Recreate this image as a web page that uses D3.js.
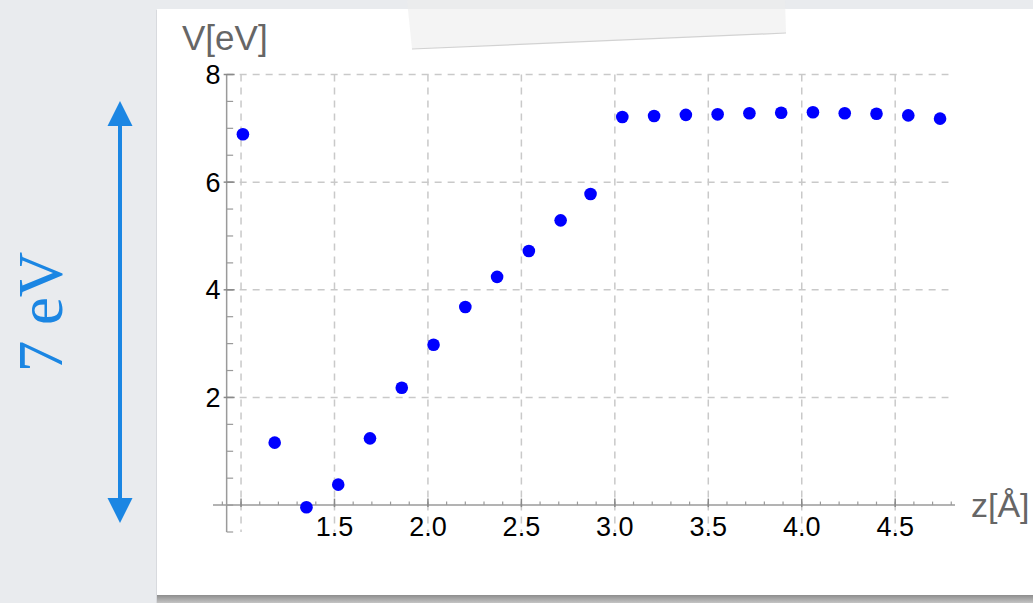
<!DOCTYPE html>
<html>
<head>
<meta charset="utf-8">
<script src="https://cdn.jsdelivr.net/npm/d3@7/dist/d3.min.js"></script>
<style>
  body { margin: 0; background: #e9ebee; }
  svg { display: block; }
</style>
</head>
<body>
<div id="chart"></div>
<script>
// Values
const zValues = [1.01, 1.18, 1.35, 1.52, 1.69, 1.86, 2.03, 2.20, 2.37, 2.54, 2.71, 2.87,
                 3.04, 3.21, 3.38, 3.55, 3.72, 3.89, 4.06, 4.23, 4.40, 4.57, 4.74];
const vValues = [6.89, 1.16, -0.04, 0.38, 1.24, 2.18, 2.98, 3.68, 4.24, 4.72, 5.29, 5.78,
                 7.21, 7.23, 7.25, 7.26, 7.28, 7.29, 7.30, 7.28, 7.27, 7.24, 7.18];

// Tick values
const xGridTicks = [1.0, 1.5, 2.0, 2.5, 3.0, 3.5, 4.0, 4.5];
const xLabelTicks = [1.5, 2.0, 2.5, 3.0, 3.5, 4.0, 4.5];
const yLabelTicks = [2, 4, 6, 8];
const xMinorTicks = d3.range(9, 49).map(d => d / 10);
const yMinorTicks = d3.range(-1, 17).map(d => d / 2);

const W = 1033, H = 603;
const blue = "#1b86e3";

const svg = d3.select("#chart")
    .append("svg")
    .attr("width", W)
    .attr("height", H);

const defs = svg.append("defs");
const shadow = defs.append("linearGradient")
    .attr("id", "shadow").attr("x1", 0).attr("y1", 0).attr("x2", 0).attr("y2", 1);
shadow.append("stop").attr("offset", "0%").attr("stop-color", "#8d8d8d");
shadow.append("stop").attr("offset", "100%").attr("stop-color", "#c4c4c4");

// Slide background and paper panel
svg.append("rect").attr("width", W).attr("height", H).attr("fill", "#e9ebee");
svg.append("rect").attr("x", 156).attr("y", 10).attr("width", W - 156).attr("height", 594)
    .attr("fill", "#d8dade");
svg.append("rect").attr("x", 157).attr("y", 595).attr("width", W - 157).attr("height", 8)
    .attr("fill", "url(#shadow)");
svg.append("rect").attr("x", 157).attr("y", 9).attr("width", W - 157).attr("height", 586)
    .attr("fill", "#ffffff");

// Tape strip
svg.append("path")
    .attr("d", "M407,0 L785,0 L786,33 L412,49 Z")
    .attr("fill", "#ececec")
    .attr("opacity", 0.6);
svg.append("path")
    .attr("d", "M412,49 L786,33")
    .attr("stroke", "#d2d2d2")
    .attr("stroke-width", 1.2);

// Scales
const x = d3.scaleLinear().domain([0.85, 4.82]).range([213, 955]);
const y = d3.scaleLinear().domain([-0.5, 8]).range([532, 74.5]);
const yAxisAt = 0.923;

const plot = svg.append("g");

// Grid
plot.selectAll(".vgrid")
    .data(xGridTicks)
    .enter().append("line")
    .attr("class", "vgrid")
    .attr("x1", d => x(d)).attr("x2", d => x(d))
    .attr("y1", y(8)).attr("y2", y(-0.5))
    .attr("stroke", "#c9c9c9").attr("stroke-width", 1.5)
    .attr("stroke-dasharray", "7,6");

plot.selectAll(".hgrid")
    .data(yLabelTicks)
    .enter().append("line")
    .attr("class", "hgrid")
    .attr("x1", x(yAxisAt)).attr("x2", x(4.785))
    .attr("y1", d => y(d)).attr("y2", d => y(d))
    .attr("stroke", "#c9c9c9").attr("stroke-width", 1.5)
    .attr("stroke-dasharray", "7,6");

// X axis (at V = 0)
const xAxisG = plot.append("g").attr("transform", `translate(0,${y(0)})`);
xAxisG.append("line")
    .attr("x1", x.range()[0]).attr("x2", x.range()[1])
    .attr("stroke", "#9a9a9a").attr("stroke-width", 1.5);
xAxisG.selectAll(".xminor")
    .data(xMinorTicks)
    .enter().append("line")
    .attr("x1", d => x(d)).attr("x2", d => x(d))
    .attr("y1", 0).attr("y2", -3.5)
    .attr("stroke", "#9a9a9a").attr("stroke-width", 1.2);
xAxisG.selectAll(".xmajor")
    .data(xGridTicks)
    .enter().append("line")
    .attr("x1", d => x(d)).attr("x2", d => x(d))
    .attr("y1", 2).attr("y2", -6.5)
    .attr("stroke", "#8a8a8a").attr("stroke-width", 1.5);
xAxisG.selectAll(".xlabel")
    .data(xLabelTicks)
    .enter().append("text")
    .attr("x", d => x(d)).attr("y", 30.5)
    .attr("text-anchor", "middle")
    .attr("font-family", "'Liberation Sans', Arial, sans-serif")
    .attr("font-size", 27)
    .attr("fill", "#000")
    .text(d => d3.format(".1f")(d));

// Y axis
const yAxisG = plot.append("g").attr("transform", `translate(${x(yAxisAt)},0)`);
yAxisG.append("line")
    .attr("y1", y(8)).attr("y2", y(-0.5))
    .attr("stroke", "#9a9a9a").attr("stroke-width", 1.5);
yAxisG.selectAll(".yminor")
    .data(yMinorTicks)
    .enter().append("line")
    .attr("x1", 0).attr("x2", 6.5)
    .attr("y1", d => y(d)).attr("y2", d => y(d))
    .attr("stroke", "#9a9a9a").attr("stroke-width", 1.2);
yAxisG.selectAll(".ymajor")
    .data(yLabelTicks)
    .enter().append("line")
    .attr("x1", -3).attr("x2", 8)
    .attr("y1", d => y(d)).attr("y2", d => y(d))
    .attr("stroke", "#8a8a8a").attr("stroke-width", 1.5);
yAxisG.selectAll(".ylabel")
    .data(yLabelTicks)
    .enter().append("text")
    .attr("x", -6).attr("y", d => y(d) + 9.5)
    .attr("text-anchor", "end")
    .attr("font-family", "'Liberation Sans', Arial, sans-serif")
    .attr("font-size", 27)
    .attr("fill", "#000")
    .text(d => d);

// Axis titles
svg.append("text")
    .attr("x", 182).attr("y", 50)
    .attr("font-family", "'Liberation Sans', Arial, sans-serif")
    .attr("font-size", 35)
    .attr("fill", "#666")
    .text("V[eV]");
svg.append("text")
    .attr("x", 971).attr("y", 517)
    .attr("font-family", "'Liberation Sans', Arial, sans-serif")
    .attr("font-size", 34)
    .attr("fill", "#666")
    .text("z[Å]");

// Points
plot.selectAll(".dot")
    .data(zValues.map((z, i) => ({ z, v: vValues[i] })))
    .enter().append("circle")
    .attr("class", "dot")
    .attr("cx", d => x(d.z))
    .attr("cy", d => y(d.v))
    .attr("r", 6.3)
    .attr("fill", "#0000ff");

// 7 eV annotation with double arrow
const ann = svg.append("g");
ann.append("line")
    .attr("x1", 120).attr("x2", 120)
    .attr("y1", 120).attr("y2", 505)
    .attr("stroke", blue).attr("stroke-width", 4);
ann.append("path")
    .attr("d", "M120,101 L132.5,126 L107.5,126 Z")
    .attr("fill", blue);
ann.append("path")
    .attr("d", "M120,523 L132.5,498 L107.5,498 Z")
    .attr("fill", blue);
ann.append("text")
    .attr("transform", "translate(62,312) rotate(-90)")
    .attr("text-anchor", "middle")
    .attr("font-family", "'Liberation Serif', 'Times New Roman', serif")
    .attr("font-size", 63)
    .attr("fill", blue)
    .text("7 eV");
</script>
</body>
</html>
